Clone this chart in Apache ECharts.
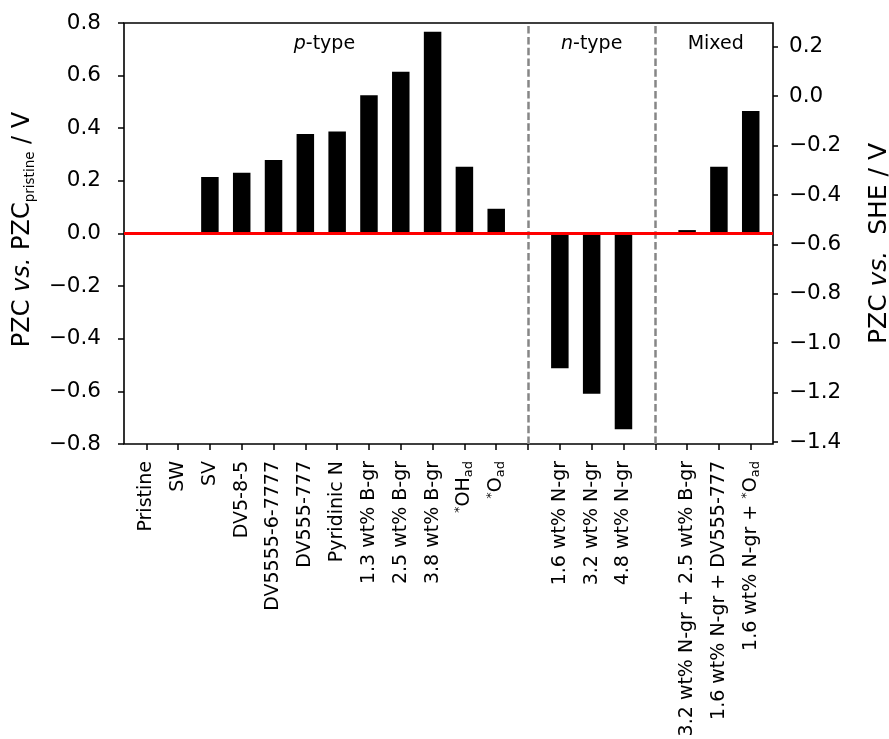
<!DOCTYPE html>
<html>
<head>
<meta charset="utf-8">
<script src="https://cdn.jsdelivr.net/npm/echarts@6/dist/echarts.min.js"></script>
<style>
  html, body { margin: 0; padding: 0; background: #fff; }
  #chart { width: 889px; height: 739px; }
</style>
</head>
<body>
<div id="chart"></div>
<script>
// Category labels (rich-text markup for sub/superscripts); '' marks a group divider slot
const categories = [
  'Pristine', 'SW', 'SV', 'DV5-8-5', 'DV5555-6-7777', 'DV555-777', 'Pyridinic N',
  '1.3 wt% B-gr', '2.5 wt% B-gr', '3.8 wt% B-gr', '{sup|*}{n|OH}{sub|ad}', '{sup|*}{n|O}{sub|ad}',
  '',
  '1.6 wt% N-gr', '3.2 wt% N-gr', '4.8 wt% N-gr',
  '',
  '3.2 wt% N-gr + 2.5 wt% B-gr', '1.6 wt% N-gr + DV555-777', '{n|1.6 wt% N-gr + }{sup|*}{n|O}{sub|ad}'
];

// PZC shift relative to pristine graphene (V)
const pzcShift = [
  0, 0, 0.215, 0.231, 0.279, 0.378, 0.388,
  0.525, 0.615, 0.767, 0.254, 0.094,
  null,
  -0.512, -0.609, -0.744,
  null,
  0.013, 0.254, 0.466
];

const rightTicks = [-1.4, -1.2, -1.0, -0.8, -0.6, -0.4, -0.2, 0.0, 0.2];
const groupLabels = ['{it|p}{n|-type}', '{it|n}{n|-type}', '{n|Mixed}'];
const groupCentres = [5.6, 14, 17.9];
const dividerSlots = [12, 16];

const FONT = 'DejaVu Sans';
const fmt = v => v.toFixed(1).replace('-', '\u2212');
const slotIndex = categories.map((_, i) => i);

const chart = echarts.init(document.getElementById('chart'), null, { renderer: 'canvas' });

chart.setOption({
  animation: false,
  backgroundColor: '#fff',
  grid: {
    left: 124, right: 116, top: 23, bottom: 295,
    outerBoundsMode: 'none',
    show: true, borderColor: '#000', borderWidth: 1.6, backgroundColor: 'transparent'
  },
  xAxis: {
    type: 'value',
    min: -0.7, max: 19.7,
    axisLine: { show: false, onZero: false },
    splitLine: { show: false },
    axisTick: {
      show: true, customValues: slotIndex, length: 6,
      lineStyle: { color: '#000', width: 1.5 }
    },
    axisLabel: {
      customValues: slotIndex,
      rotate: 90, margin: 17,
      fontFamily: FONT, fontSize: 19, color: '#000',
      formatter: v => categories[Math.round(v)] || '',
      rich: {
        n: { fontFamily: FONT, fontSize: 19, color: '#000' },
        sup: { fontFamily: FONT, fontSize: 13, color: '#000', verticalAlign: 'top' },
        sub: { fontFamily: FONT, fontSize: 13, color: '#000', verticalAlign: 'bottom', padding: [9, 0, 0, 0] }
      }
    }
  },
  yAxis: [
    {
      type: 'value',
      min: -0.8, max: 0.8, interval: 0.2,
      position: 'left',
      axisLine: { show: false, onZero: false },
      splitLine: { show: false },
      axisTick: { show: true, length: 6, lineStyle: { color: '#000', width: 1.5 } },
      axisLabel: {
        margin: 23, fontFamily: FONT, fontSize: 21.5, color: '#000',
        formatter: fmt
      },
      name: '{n|PZC }{i|vs.}{n| PZC}{sub|pristine}{n| / V}',
      nameLocation: 'middle', nameRotate: 90, nameGap: 86,
      nameTextStyle: {
        padding: [0, 0, 0, 8],
        rich: {
          n: { fontFamily: FONT, fontSize: 24, color: '#000' },
          i: { fontFamily: FONT, fontSize: 24, color: '#000', fontStyle: 'italic' },
          sub: { fontFamily: FONT, fontSize: 13.5, color: '#000', verticalAlign: 'bottom', padding: [16, 0, 0, 0] }
        }
      }
    },
    {
      type: 'value',
      min: -1.408, max: 0.296,
      position: 'right',
      axisLine: { show: false, onZero: false },
      splitLine: { show: false },
      axisTick: {
        show: true, length: 5, customValues: rightTicks,
        lineStyle: { color: '#000', width: 1.5 }
      },
      axisLabel: {
        customValues: rightTicks,
        margin: 16, fontFamily: FONT, fontSize: 21.5, color: '#000',
        formatter: fmt
      },
      name: '{n|PZC }{i|vs.}{n|  SHE / V}',
      nameLocation: 'middle', nameRotate: 90, nameGap: 94,
      nameTextStyle: {
        padding: [0, 20, 0, 0],
        rich: {
          n: { fontFamily: FONT, fontSize: 25, color: '#000' },
          i: { fontFamily: FONT, fontSize: 25, color: '#000', fontStyle: 'italic' }
        }
      }
    }
  ],
  series: [
    {
      type: 'bar',
      xAxisIndex: 0, yAxisIndex: 0,
      barWidth: 17.5,
      itemStyle: { color: '#000' },
      data: pzcShift.map((v, i) => [i, v]),
      markLine: {
        silent: true,
        symbol: ['none', 'none'],
        label: { show: false },
        data: [
          ...dividerSlots.map(s => ({
            xAxis: s,
            lineStyle: { color: '#868686', width: 2.5, type: [7.5, 3.3] }
          })),
          { yAxis: 0, lineStyle: { color: '#ff0000', width: 3, type: 'solid' } }
        ]
      }
    }
  ]
});

// Group headings placed in data coordinates above each region
chart.setOption({
  graphic: groupCentres.map((x, k) => {
    const [px, py] = chart.convertToPixel({ xAxisIndex: 0, yAxisIndex: 0 }, [x, 0.72]);
    return {
      type: 'text',
      x: px, y: py,
      silent: true,
      style: {
        text: groupLabels[k],
        align: 'center', verticalAlign: 'middle',
        rich: {
          n: { fontFamily: FONT, fontSize: 19, fill: '#000' },
          it: { fontFamily: FONT, fontSize: 19, fill: '#000', fontStyle: 'italic' }
        }
      }
    };
  })
});
</script>
</body>
</html>
